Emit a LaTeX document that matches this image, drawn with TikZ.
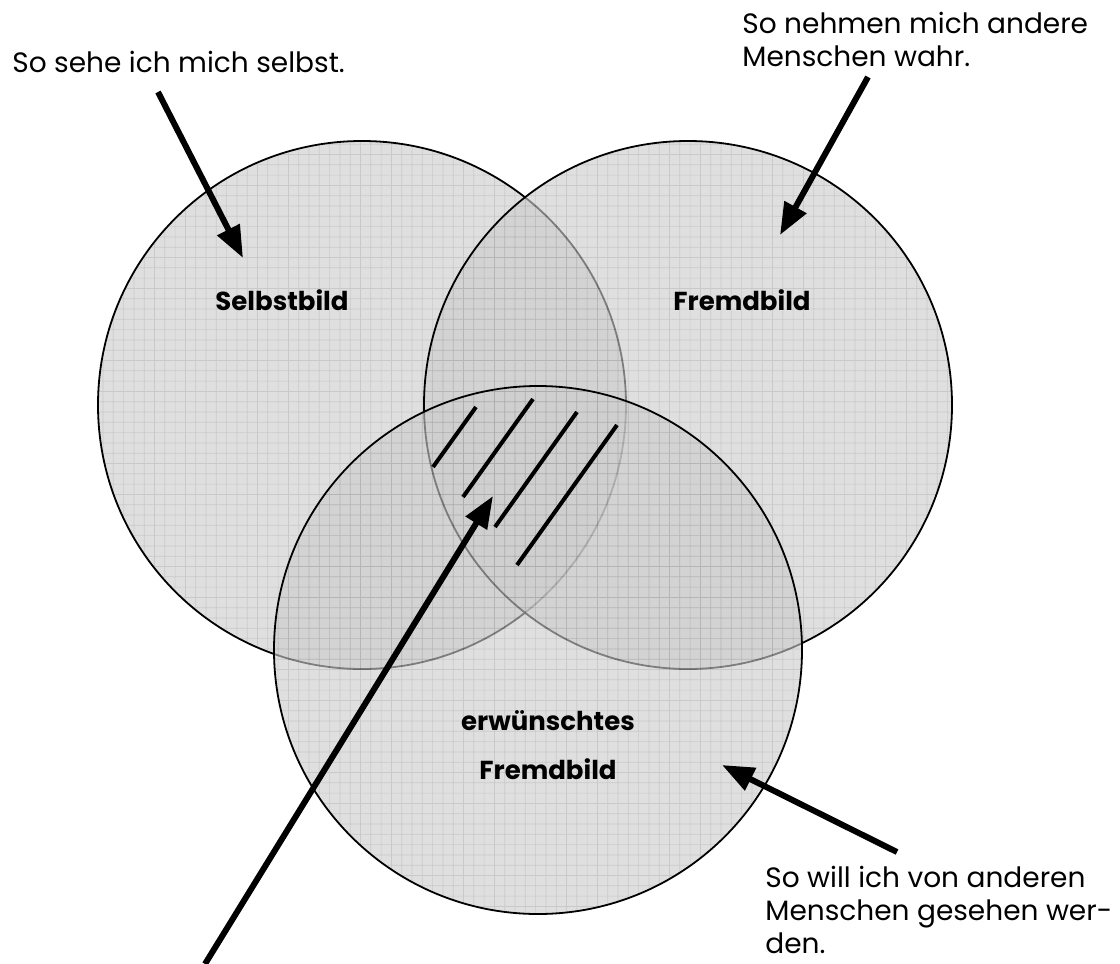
\documentclass[tikz,border=0pt]{standalone}
\usepackage{fontspec}
\setmainfont{Poppins}
\usetikzlibrary{arrows.meta}
\definecolor{cfill}{gray}{0.80}
\definecolor{cgrid}{gray}{0.66}
\begin{document}
\begin{tikzpicture}[x=0.5pt,y=-0.5pt,
  ring/.style={draw=black,line width=0.9pt},
  gridl/.style={draw=cgrid,line width=0.35pt},
  bigarrow/.style={line width=3pt,-{Triangle[length=16pt,width=12pt]}},
  hatchl/.style={line width=2pt},
  txt/.style={font=\fontsize{14pt}{16.5pt}\selectfont,align=left,inner sep=0pt},
  lbl/.style={font=\fontsize{13pt}{24.5pt}\selectfont\bfseries,align=center,inner sep=0pt}]
\useasboundingbox (0,0) rectangle (1120,964);
\coordinate (cL) at (362,405);
\coordinate (cR) at (688,405);
\coordinate (cB) at (538,650);
% circles
\foreach \c in {cL,cR,cB}{
  \begin{scope}[transparency group,opacity=0.62]
    \fill[cfill] (\c) circle (132pt);
    \begin{scope}
      \clip (\c) circle (132pt);
      \draw[gridl] (0,0) grid[step=5.15pt] (1120,964);
    \end{scope}
  \end{scope}
  \draw[ring] (\c) circle (132pt);
}
% hatch
\draw[hatchl] (433,467) -- (476,407);
\draw[hatchl] (463,497) -- (533,399);
\draw[hatchl] (495,527) -- (577,412);
\draw[hatchl] (517,565) -- (617,425);
% labels
\node[lbl] (sb) at (282,300) {Selbstbild};
\node[lbl] (fb) at (742,300) {Fremdbild};
\node[lbl] (efb) at (548,745) {erwünschtes\\Fremdbild};
% texts
\node[txt,anchor=base west] (t1) at (12,72) {So sehe ich mich selbst.};
\node[txt,anchor=base west] (t2) at (742,66) {So nehmen mich andere\\Menschen wahr.};
\node[txt,anchor=base west] (t3) at (765,953) {So will ich von anderen\\Menschen gesehen wer-\\den.};
% arrow anchors
\coordinate (a1s) at (158,92);
\coordinate (a1e) at (243,258);
\coordinate (a2s) at (868,77);
\coordinate (a2e) at (780,235);
\coordinate (a3s) at (897,852);
\coordinate (a3e) at (722,765);
\coordinate (a4s) at (205,964);
\coordinate (a4e) at (493,496);
\draw[bigarrow] (a1s) -- (a1e);
\draw[bigarrow] (a2s) -- (a2e);
\draw[bigarrow] (a3s) -- (a3e);
\draw[bigarrow] (a4s) -- (a4e);
\end{tikzpicture}
\end{document}
